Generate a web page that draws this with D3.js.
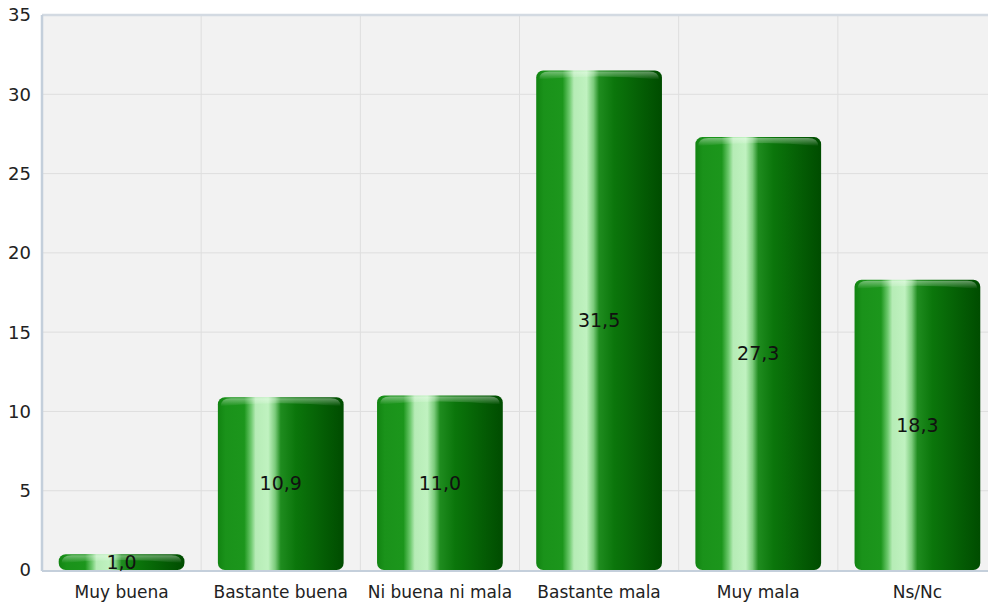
<!DOCTYPE html>
<html><head><meta charset="utf-8">
<script src="https://cdn.jsdelivr.net/npm/d3@7"></script>
<style>body{margin:0;background:#fff}svg{display:block}</style>
</head><body>
<svg id="c" width="988" height="605"></svg>
<script>
const categories = ["Muy buena","Bastante buena","Ni buena ni mala","Bastante mala","Muy mala","Ns/Nc"];
const values = [1.0,10.9,11.0,31.5,27.3,18.3];
const valueLabels = ["1,0","10,9","11,0","31,5","27,3","18,3"];
const yTicks = [0,5,10,15,20,25,30,35];

const W=988,H=605, L=42, T=15, B=570, R=997;
const svg=d3.select("#c");
const x=d3.scaleBand().domain(categories).range([L,R]).paddingInner(0.21).paddingOuter(0.105);
const y=d3.scaleLinear().domain([0,35]).range([B,T]);
const font="DejaVu Sans, Verdana, sans-serif";

const defs=svg.append("defs");
const g=defs.append("linearGradient").attr("id","bar").attr("x1","0").attr("x2","1").attr("y1","0").attr("y2","0");
[[0,"#118411"],[0.06,"#1a921a"],[0.21,"#1c961c"],[0.265,"#6fca6f"],[0.30,"#b6ecb6"],[0.40,"#c0f2c0"],[0.455,"#7ccc7c"],[0.50,"#1f8c1f"],[0.62,"#0b760b"],[0.85,"#045c04"],[1,"#004c00"]]
 .forEach(([o,c])=>g.append("stop").attr("offset",o).attr("stop-color",c));
const gt=defs.append("linearGradient").attr("id","cap").attr("x1","0").attr("x2","0").attr("y1","0").attr("y2","1");
gt.append("stop").attr("offset",0).attr("stop-color","#fff").attr("stop-opacity",0.4);
gt.append("stop").attr("offset",1).attr("stop-color","#fff").attr("stop-opacity",0);

// plot background
svg.append("rect").attr("x",L).attr("y",T).attr("width",W-L).attr("height",B-T).attr("fill","#f2f2f2");
// horizontal grid
svg.selectAll(".hg").data(yTicks.filter(d=>d>0&&d<35)).enter().append("line")
 .attr("x1",L).attr("x2",W).attr("y1",d=>y(d)).attr("y2",d=>y(d)).attr("stroke","#dedede").attr("stroke-width",1);
// vertical grid
svg.selectAll(".vg").data(categories.slice(1)).enter().append("line")
 .attr("x1",d=>x(d)-x.step()*x.paddingInner()/2).attr("x2",d=>x(d)-x.step()*x.paddingInner()/2)
 .attr("y1",T).attr("y2",B).attr("stroke","#dedede").attr("stroke-width",1);
// frame lines
svg.append("line").attr("x1",L).attr("x2",W).attr("y1",T).attr("y2",T).attr("stroke","#d3dae2").attr("stroke-width",2.5);
svg.append("line").attr("x1",L).attr("x2",L).attr("y1",T).attr("y2",B+1).attr("stroke","#c4cfdb").attr("stroke-width",2.5);
svg.append("line").attr("x1",L).attr("x2",W).attr("y1",B+1).attr("y2",B+1).attr("stroke","#c4cfdb").attr("stroke-width",2);

// bars
const bars=svg.selectAll(".bar").data(categories).enter().append("g");
bars.append("rect").attr("x",d=>x(d)).attr("y",(d,i)=>y(values[i])).attr("width",x.bandwidth())
 .attr("height",(d,i)=>B-y(values[i])).attr("rx",7).attr("ry",7).attr("fill","url(#bar)");
bars.append("path").attr("d",(d,i)=>{
  const x0=x(d)+3,x1=x(d)+x.bandwidth()-3,yt=y(values[i])+1,h=Math.min(8,(B-y(values[i]))/2);
  return `M${x0},${yt+h} Q${x0},${yt} ${x0+10},${yt} L${x1-10},${yt} Q${x1},${yt} ${x1},${yt+h} Q${(x0+x1)/2},${yt+2} ${x0},${yt+h}Z`;
}).attr("fill","url(#cap)");

// value labels
svg.selectAll(".vl").data(categories).enter().append("text")
 .attr("x",d=>x(d)+x.bandwidth()/2).attr("y",(d,i)=>(y(values[i])+B)/2)
 .attr("dy","0.36em").attr("text-anchor","middle").attr("font-family",font).attr("font-size",19)
 .attr("fill","#111").text((d,i)=>valueLabels[i]);

// y tick labels
svg.selectAll(".yl").data(yTicks).enter().append("text")
 .attr("x",31).attr("y",d=>y(d)).attr("dy","0.36em").attr("text-anchor","end")
 .attr("font-family",font).attr("font-size",18).attr("fill","#222").text(d=>d);
// x labels
svg.selectAll(".xl").data(categories).enter().append("text")
 .attr("x",d=>x(d)+x.bandwidth()/2).attr("y",598).attr("text-anchor","middle")
 .attr("font-family",font).attr("font-size",17).attr("fill","#222").text(d=>d);
</script>
</body></html>
